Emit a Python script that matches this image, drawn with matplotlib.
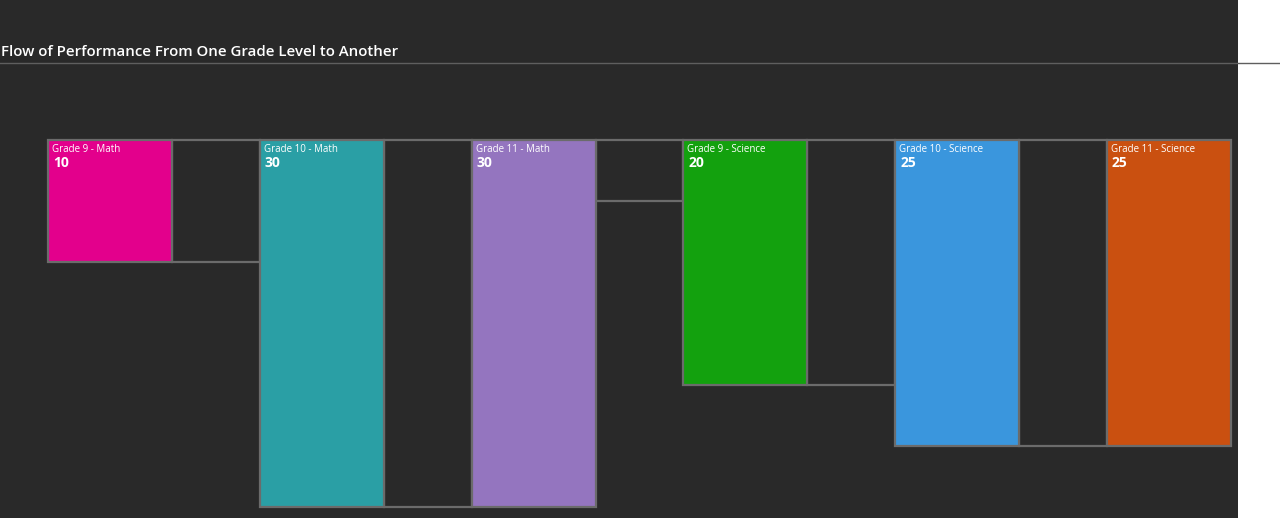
import matplotlib
matplotlib.use("Agg")
import matplotlib.pyplot as plt
from matplotlib.patches import Rectangle

# data
labels = ["Grade 9 - Math", "Grade 10 - Math", "Grade 11 - Math",
          "Grade 9 - Science", "Grade 10 - Science", "Grade 11 - Science"]
values = [10, 30, 30, 20, 25, 25]
flows = [10, 30, 5, 20, 25]
colors = ["#E3008C", "#2A9FA5", "#9475BF", "#13A10E", "#3A96DD", "#CA5010"]

BG = "#292929"
EDGE = "#6b6b6b"
W, H = 1280, 518

plt.rcParams["font.family"] = ["Open Sans", "DejaVu Sans"]

fig = plt.figure(figsize=(W / 100, H / 100), dpi=100, facecolor="white")

# dark panel + title
bg = fig.add_axes([0, 0, 1238 / W, 1])
bg.set_facecolor(BG)
bg.set_xticks([]); bg.set_yticks([])
for s in bg.spines.values():
    s.set_visible(False)
fig.add_artist(plt.Line2D([0, 1], [1 - 63 / H, 1 - 63 / H], color="#5f5f5f", lw=1))
fig.text(1 / W, 1 - 52.5 / H, "Flow of Performance From One Grade Level to Another",
         color="white", fontsize=10.8, fontweight="semibold", va="center", ha="left")

# main axes: top at 140px, value 30 at 507px
bw = 124 / 211.8
ax = fig.add_axes([48 / W, (H - 507) / H, (1231 - 48) / W, 367 / H])
ax.set_xlim(-bw / 2, len(values) - 1 + bw / 2)
ax.set_ylim(max(values), 0)
ax.axis("off")

for i, (lab, v, c) in enumerate(zip(labels, values, colors)):
    ax.add_patch(Rectangle((i - bw / 2, 0), bw, v, facecolor=c, edgecolor=EDGE,
                           lw=1.6, clip_on=False, zorder=3))
    ax.annotate(lab, (i - bw / 2, 0), xytext=(4, -9), textcoords="offset pixels",
                color="white", fontsize=7, va="center", ha="left", zorder=4)
    ax.annotate(str(v), (i - bw / 2, 0), xytext=(5, -23), textcoords="offset pixels",
                color="white", fontsize=10, fontweight="bold", va="center", ha="left", zorder=4)

for i, f in enumerate(flows):
    ax.add_patch(Rectangle((i + bw / 2, 0), 1 - bw, f, facecolor="none", edgecolor=EDGE,
                           lw=1.6, clip_on=False, zorder=2))

fig.savefig("out.png", dpi=100, facecolor=fig.get_facecolor())
